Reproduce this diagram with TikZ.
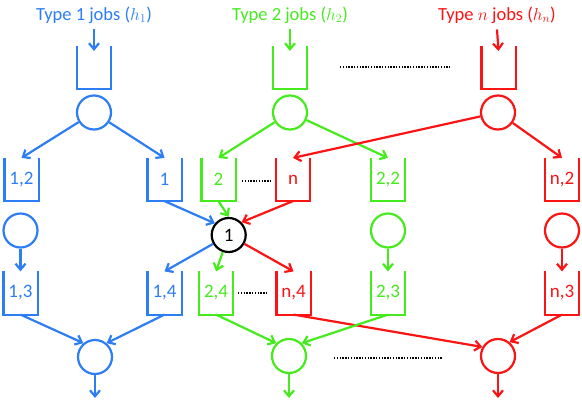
\documentclass[tikz,border=0pt]{standalone}
\usepackage{fontspec}
\setmainfont{Carlito}
\usetikzlibrary{arrows.meta}
\definecolor{cb}{RGB}{45,125,245}
\definecolor{cg}{RGB}{70,235,30}
\definecolor{cr}{RGB}{250,20,20}
\begin{document}
\begin{tikzpicture}[x=1pt,y=-1pt,
  line width=2.2pt,
  arr/.style={-{Straight Barb[length=6pt,width=10pt]}},
  buf/.style={minimum width=32pt,minimum height=41pt,inner sep=0pt,text=#1,font=\fontsize{19}{19}\selectfont},
  srv/.style={circle,draw=#1,minimum size=34pt,inner sep=0pt,font=\fontsize{19}{19}\selectfont},
  ttl/.style={text=#1,font=\fontsize{18.5}{20}\selectfont,inner sep=0pt},
  dots/.style={draw=black,line width=2.2pt,dash pattern=on 1.4pt off 1.4pt}]
\useasboundingbox (0,0) rectangle (582,400);

% titles
\node[ttl=cb] (t1) at (94,15) {Type 1 jobs ($h_1$)};
\node[ttl=cg] (t2) at (290,15) {Type 2 jobs ($h_2$)};
\node[ttl=cr] (tn) at (497,15) {Type $n$ jobs ($h_n$)};

% blue
\node[buf=cb] (q1) at (94,67.5) {};
\node[srv=cb] (s1) at (94,112.5) {};
\node[buf=cb] (q12) at (21.5,179.5) {1,2};
\node[buf=cb] (q1n) at (164.5,179.5) {1};
\node[srv=cb] (s12) at (20.5,230.5) {};
\node[buf=cb] (q13) at (20.5,293) {1,3};
\node[buf=cb] (q14) at (164.5,293) {1,4};
\node[srv=cb] (e1) at (95,357) {};
\coordinate (o1) at (95,398);

% green
\node[buf=cg] (q2) at (290,67.5) {};
\node[srv=cg] (s2) at (290,112.5) {};
\node[buf=cg] (q21) at (218.5,179.5) {2};
\node[buf=cg] (q22) at (388,179.5) {2,2};
\node[srv=cg] (s22) at (388,230.5) {};
\node[buf=cg] (q24) at (216,293) {2,4};
\node[buf=cg] (q23) at (388,293) {2,3};
\node[srv=cg] (e2) at (289,356) {};
\coordinate (o2) at (289,398);

% red
\node[buf=cr] (qn) at (498.5,67.5) {};
\node[srv=cr] (sn) at (498,112.5) {};
\node[buf=cr] (qn1) at (293,179.5) {n};
\node[buf=cr] (qn2) at (562,179.5) {n,2};
\node[srv=cr] (sn2) at (562,230.5) {};
\node[buf=cr] (qn4) at (293.5,293) {n,4};
\node[buf=cr] (qn3) at (562,293) {n,3};
\node[srv=cr] (en) at (498,356) {};
\coordinate (on) at (498,398);

% shared server
\node[srv=black] (c1) at (228.7,235) {1};

% open-top buffers
\foreach \n/\c in {q1/cb,q12/cb,q1n/cb,q13/cb,q14/cb,q2/cg,q21/cg,q22/cg,q24/cg,q23/cg,qn/cr,qn1/cr,qn2/cr,qn4/cr,qn3/cr}
  \draw[\c] (\n.north west) -- (\n.south west) -- (\n.south east) -- (\n.north east);

% dotted ellipses
\coordinate (d1a) at (340,67); \coordinate (d1b) at (450,67);
\coordinate (d2a) at (242,181); \coordinate (d2b) at (272,181);
\coordinate (d3a) at (238,293); \coordinate (d3b) at (268,293);
\coordinate (d4a) at (334,358); \coordinate (d4b) at (443,358);
\draw[dots] (d1a) -- (d1b);
\draw[dots] (d2a) -- (d2b);
\draw[dots] (d3a) -- (d3b);
\draw[dots] (d4a) -- (d4b);

% input arrows
\draw[arr,cb] ([yshift=-5pt]t1.south) -- ([yshift=-5pt]q1.north);
\draw[arr,cg] ([yshift=-5pt]t2.south) -- ([yshift=-5pt]q2.north);
\draw[arr,cr] ([yshift=-5pt]tn.south) -- ([yshift=-5pt]qn.north);

% blue connectors
\draw[arr,cb] (s1) -- (q12.north);
\draw[arr,cb] (s1) -- (q1n.north);
\draw[arr,cb] (s12) -- (q13.north);
\draw[arr,cb] (q1n.south) -- (c1.140);
\draw[arr,cb] (c1) -- (q14.north);
\draw[arr,cb] (q13.south) -- (e1.130);
\draw[arr,cb] (q14.south) -- (e1.50);
\draw[arr,cb] (e1) -- (o1);

% green connectors (upper)
\draw[arr,cg] (s2) -- (q21.north);
\draw[arr,cg] (s2) -- (q22.north);
\draw[arr,cg] (q21.south) -- (c1.north);
\draw[arr,cg] (c1) -- (q24.north);
\draw[arr,cg] (s22) -- (q23.north);

% red connectors
\draw[arr,cr] (sn) -- (qn1.north);
\draw[arr,cr] (sn) -- (qn2.north);
\draw[arr,cr] (qn1.south) -- (c1.45);
\draw[arr,cr] (c1) -- (qn4.north);
\draw[arr,cr] (sn2) -- (qn3.north);
\draw[arr,cr] (qn4.south) -- (en.150);
\draw[arr,cr] (qn3.south) -- (en.50);
\draw[arr,cr] (en) -- (on);

% green connectors (lower)
\draw[arr,cg] (q24.south) -- (e2.135);
\draw[arr,cg] (q23.south) -- (e2.45);
\draw[arr,cg] (e2) -- (o2);
\end{tikzpicture}
\end{document}
